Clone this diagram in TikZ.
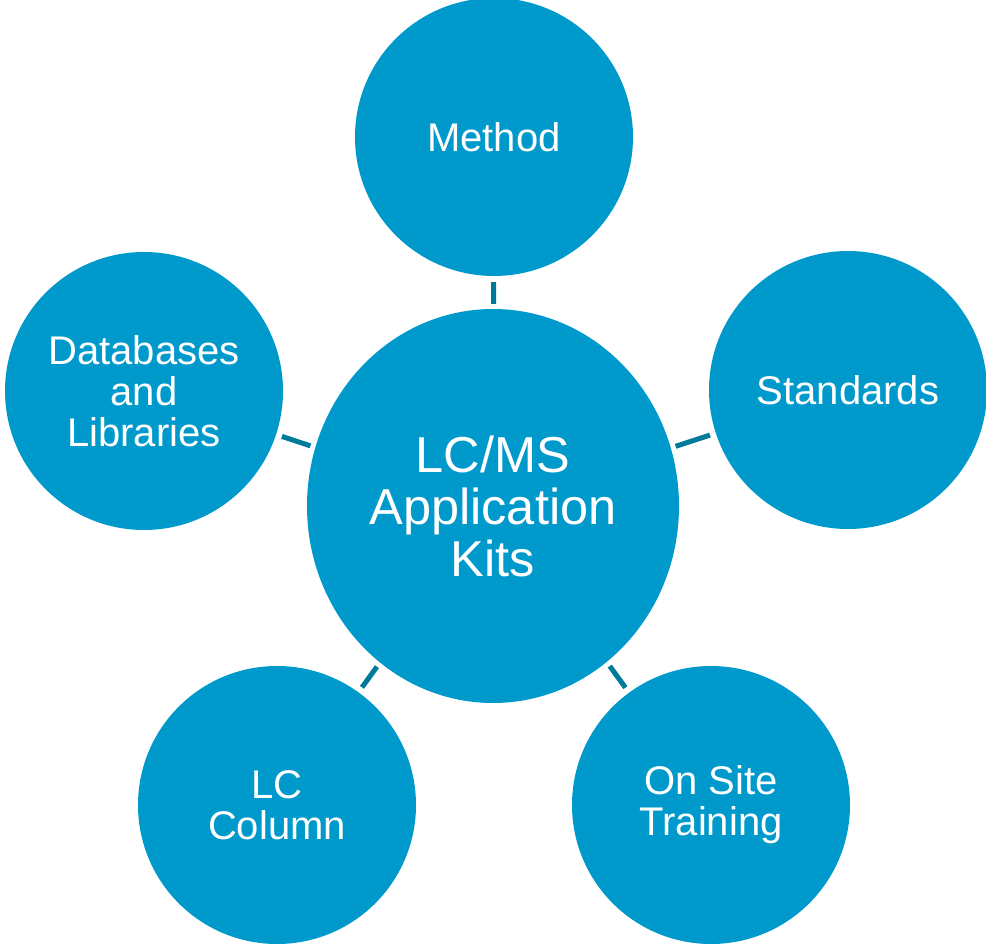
\documentclass[tikz,border=0pt]{standalone}
\usepackage{fontspec}
\setmainfont{Liberation Sans}
\usetikzlibrary{shapes.geometric}

\definecolor{kitblue}{RGB}{0,153,204}
\definecolor{linkteal}{RGB}{0,122,154}

\tikzset{
  topic/.style={circle, fill=kitblue, text=white, minimum size=278pt, inner sep=0pt,
    align=center, font=\fontsize{40}{41}\selectfont},
  hub/.style={ellipse, fill=kitblue, text=white, minimum width=372pt, minimum height=394pt,
    inner sep=0pt, align=center, font=\fontsize{50.5}{52}\selectfont},
  link/.style={draw=linkteal, line width=5pt, shorten <=5pt, shorten >=6pt}
}

\begin{document}
\begin{tikzpicture}[x=1pt, y=-1pt]
  \useasboundingbox (0,0) rectangle (986,944);

  \node[hub] (kits) at (493,506) {LC/MS\\Application\\Kits};
  \node[topic] (method) at (494,137) {Method};
  \node[topic] (standards) at (848,390) {Standards};
  \node[topic] (databases) at (144,391) {Databases\\and\\Libraries};
  \node[topic] (column) at (277,805) {LC\\Column};
  \node[topic] (training) at (711,805) {On Site\\Training};

  \draw[link] (kits) -- (method);
  \draw[link] (kits) -- (standards);
  \draw[link] (kits) -- (databases);
  \draw[link] (kits) -- (column);
  \draw[link] (kits) -- (training);
\end{tikzpicture}
\end{document}
